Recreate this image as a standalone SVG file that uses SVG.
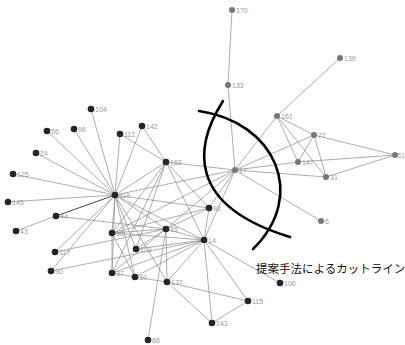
<svg xmlns="http://www.w3.org/2000/svg" width="405" height="345" viewBox="0 0 405 345">
<style>
.e{stroke:#8a8a8a;stroke-width:0.7;fill:none}
.d{fill:#252525}
.g{fill:#777}
.l{font-family:"Liberation Sans",Arial,sans-serif;font-size:7px;fill:#9a9a9a}
.cut{stroke:#000;stroke-width:2.6;fill:none;stroke-linecap:round}
.cap{font-family:"Noto Sans CJK JP","Noto Sans",sans-serif;font-size:11.5px;fill:#111}
</style>
<rect width="405" height="345" fill="#fff"/>
<g id="connectors">
<line class="e" x1="232" y1="10" x2="228" y2="85"/>
<line class="e" x1="228" y1="85" x2="235" y2="170"/>
<line class="e" x1="340" y1="58" x2="277" y2="116"/>
<line class="e" x1="277" y1="116" x2="235" y2="170"/>
<line class="e" x1="277" y1="116" x2="314" y2="135"/>
<line class="e" x1="277" y1="116" x2="298" y2="162"/>
<line class="e" x1="277" y1="116" x2="326" y2="177"/>
<line class="e" x1="314" y1="135" x2="298" y2="162"/>
<line class="e" x1="314" y1="135" x2="326" y2="177"/>
<line class="e" x1="314" y1="135" x2="395" y2="155"/>
<line class="e" x1="314" y1="135" x2="235" y2="170"/>
<line class="e" x1="298" y1="162" x2="395" y2="155"/>
<line class="e" x1="298" y1="162" x2="235" y2="170"/>
<line class="e" x1="326" y1="177" x2="395" y2="155"/>
<line class="e" x1="326" y1="177" x2="235" y2="170"/>
<line class="e" x1="235" y1="170" x2="321" y2="221"/>
<line class="e" x1="235" y1="170" x2="166" y2="162"/>
<line class="e" x1="235" y1="170" x2="115" y2="195"/>
<line class="e" x1="235" y1="170" x2="209" y2="208"/>
<line class="e" x1="235" y1="170" x2="204" y2="240"/>
<line class="e" x1="235" y1="170" x2="166" y2="229"/>
<line class="e" x1="235" y1="170" x2="112" y2="233"/>
<line class="e" x1="115" y1="195" x2="91" y2="109"/>
<line class="e" x1="115" y1="195" x2="47" y2="131"/>
<line class="e" x1="115" y1="195" x2="74" y2="129"/>
<line class="e" x1="115" y1="195" x2="120" y2="134"/>
<line class="e" x1="115" y1="195" x2="142" y2="126"/>
<line class="e" x1="115" y1="195" x2="36" y2="153"/>
<line class="e" x1="115" y1="195" x2="13" y2="174"/>
<line class="e" x1="115" y1="195" x2="8" y2="202"/>
<line class="e" x1="115" y1="195" x2="56" y2="216" style="stroke:#444;stroke-width:1"/>
<line class="e" x1="115" y1="195" x2="166" y2="162"/>
<line class="e" x1="115" y1="195" x2="209" y2="208"/>
<line class="e" x1="115" y1="195" x2="112" y2="233"/>
<line class="e" x1="115" y1="195" x2="112" y2="273"/>
<line class="e" x1="115" y1="195" x2="135" y2="277"/>
<line class="e" x1="115" y1="195" x2="136" y2="249"/>
<line class="e" x1="115" y1="195" x2="166" y2="229"/>
<line class="e" x1="115" y1="195" x2="204" y2="240"/>
<line class="e" x1="115" y1="195" x2="167" y2="282"/>
<line class="e" x1="115" y1="195" x2="55" y2="252"/>
<line class="e" x1="115" y1="195" x2="51" y2="271"/>
<line class="e" x1="56" y1="216" x2="16" y2="231"/>
<line class="e" x1="56" y1="216" x2="166" y2="229"/>
<line class="e" x1="166" y1="162" x2="120" y2="134"/>
<line class="e" x1="166" y1="162" x2="142" y2="126"/>
<line class="e" x1="166" y1="162" x2="112" y2="233"/>
<line class="e" x1="166" y1="162" x2="136" y2="249"/>
<line class="e" x1="166" y1="162" x2="112" y2="273"/>
<line class="e" x1="166" y1="162" x2="209" y2="208"/>
<line class="e" x1="166" y1="162" x2="204" y2="240"/>
<line class="e" x1="209" y1="208" x2="166" y2="229"/>
<line class="e" x1="209" y1="208" x2="112" y2="233"/>
<line class="e" x1="209" y1="208" x2="204" y2="240"/>
<line class="e" x1="204" y1="240" x2="112" y2="233"/>
<line class="e" x1="204" y1="240" x2="166" y2="229"/>
<line class="e" x1="204" y1="240" x2="136" y2="249"/>
<line class="e" x1="204" y1="240" x2="112" y2="273"/>
<line class="e" x1="204" y1="240" x2="135" y2="277"/>
<line class="e" x1="204" y1="240" x2="51" y2="271"/>
<line class="e" x1="204" y1="240" x2="167" y2="282"/>
<line class="e" x1="204" y1="240" x2="212" y2="323"/>
<line class="e" x1="204" y1="240" x2="248" y2="301"/>
<line class="e" x1="204" y1="240" x2="280" y2="283"/>
<line class="e" x1="166" y1="229" x2="112" y2="233"/>
<line class="e" x1="166" y1="229" x2="136" y2="249"/>
<line class="e" x1="166" y1="229" x2="167" y2="282"/>
<line class="e" x1="166" y1="229" x2="112" y2="273"/>
<line class="e" x1="166" y1="229" x2="55" y2="252"/>
<line class="e" x1="166" y1="229" x2="148" y2="340"/>
<line class="e" x1="112" y1="233" x2="112" y2="273"/>
<line class="e" x1="112" y1="233" x2="135" y2="277"/>
<line class="e" x1="167" y1="282" x2="135" y2="277"/>
<line class="e" x1="167" y1="282" x2="248" y2="301"/>
<line class="e" x1="167" y1="282" x2="212" y2="323"/>
<line class="e" x1="135" y1="277" x2="112" y2="273"/>
<line class="e" x1="248" y1="301" x2="212" y2="323"/>
</g>
<g id="cutline">
<path class="cut" d="M199,111 C275,122 308,195 253,249"/>
<path class="cut" d="M223,101 C195,145 185,205 290,237"/>
<text class="cap" x="256" y="273">提案手法によるカットライン</text>
</g>
<g id="n170"><circle class="g" cx="232" cy="10" r="3"/><text class="l" x="236" y="12.5">170</text></g>
<g id="n139"><circle class="g" cx="340" cy="58" r="3"/><text class="l" x="344" y="60.5">139</text></g>
<g id="n133"><circle class="g" cx="228" cy="85" r="3"/><text class="l" x="232" y="87.5">133</text></g>
<g id="n161"><circle class="g" cx="277" cy="116" r="3"/><text class="l" x="281" y="118.5">161</text></g>
<g id="n77"><circle class="g" cx="314" cy="135" r="3"/><text class="l" x="318" y="137.5">77</text></g>
<g id="n51"><circle class="g" cx="395" cy="155" r="3"/><text class="l" x="397.6" y="157.5" style="font-size:6.4px">51</text></g>
<g id="n147"><circle class="g" cx="298" cy="162" r="3"/><text class="l" x="302" y="164.5">147</text></g>
<g id="n31"><circle class="g" cx="326" cy="177" r="3"/><text class="l" x="330" y="179.5">31</text></g>
<g id="n17"><circle class="g" cx="235" cy="170" r="3"/><text class="l" x="239" y="172.5">17</text></g>
<g id="n6"><circle class="g" cx="321" cy="221" r="3"/><text class="l" x="325" y="223.5">6</text></g>
<g id="n92"><circle class="d" cx="209" cy="208" r="3.3"/><text class="l" x="213" y="210.5">92</text></g>
<g id="n14"><circle class="d" cx="204" cy="240" r="3.3"/><text class="l" x="208" y="242.5">14</text></g>
<g id="n163"><circle class="d" cx="166" cy="162" r="3.3"/><text class="l" x="170" y="164.5">163</text></g>
<g id="n119"><circle class="d" cx="115" cy="195" r="3.3"/><text class="l" x="119" y="197.5">119</text></g>
<g id="n104"><circle class="d" cx="91" cy="109" r="3.3"/><text class="l" x="95" y="111.5">104</text></g>
<g id="n56"><circle class="d" cx="47" cy="131" r="3.3"/><text class="l" x="51" y="133.5">56</text></g>
<g id="n96"><circle class="d" cx="74" cy="129" r="3.3"/><text class="l" x="78" y="131.5">96</text></g>
<g id="n112"><circle class="d" cx="120" cy="134" r="3.3"/><text class="l" x="124" y="136.5">112</text></g>
<g id="n142"><circle class="d" cx="142" cy="126" r="3.3"/><text class="l" x="146" y="128.5">142</text></g>
<g id="n24"><circle class="d" cx="36" cy="153" r="3.3"/><text class="l" x="40" y="155.5">24</text></g>
<g id="n125"><circle class="d" cx="13" cy="174" r="3.3"/><text class="l" x="17" y="176.5">125</text></g>
<g id="n145"><circle class="d" cx="8" cy="202" r="3.3"/><text class="l" x="12" y="204.5">145</text></g>
<g id="n44"><circle class="d" cx="56" cy="216" r="3.3"/><text class="l" x="60" y="218.5">44</text></g>
<g id="n43"><circle class="d" cx="16" cy="231" r="3.3"/><text class="l" x="20" y="233.5">43</text></g>
<g id="n117"><circle class="d" cx="55" cy="252" r="3.3"/><text class="l" x="59" y="254.5">117</text></g>
<g id="n90"><circle class="d" cx="51" cy="271" r="3.3"/><text class="l" x="55" y="273.5">90</text></g>
<g id="n95"><circle class="d" cx="112" cy="233" r="3.3"/><text class="l" x="116" y="235.5">95</text></g>
<g id="n35"><circle class="d" cx="166" cy="229" r="3.3"/><text class="l" x="170" y="231.5">35</text></g>
<g id="n103"><circle class="d" cx="136" cy="249" r="3.3"/><text class="l" x="140" y="251.5">103</text></g>
<g id="n37"><circle class="d" cx="112" cy="273" r="3.3"/><text class="l" x="116" y="275.5">37</text></g>
<g id="n30"><circle class="d" cx="135" cy="277" r="3.3"/><text class="l" x="139" y="279.5">30</text></g>
<g id="n137"><circle class="d" cx="167" cy="282" r="3.3"/><text class="l" x="171" y="284.5">137</text></g>
<g id="n106"><circle class="d" cx="280" cy="283" r="3.3"/><text class="l" x="284" y="285.5">106</text></g>
<g id="n115"><circle class="d" cx="248" cy="301" r="3.3"/><text class="l" x="252" y="303.5">115</text></g>
<g id="n143"><circle class="d" cx="212" cy="323" r="3.3"/><text class="l" x="216" y="325.5">143</text></g>
<g id="n86"><circle class="d" cx="148" cy="340" r="3.3"/><text class="l" x="152" y="342.5">86</text></g>
</svg>
